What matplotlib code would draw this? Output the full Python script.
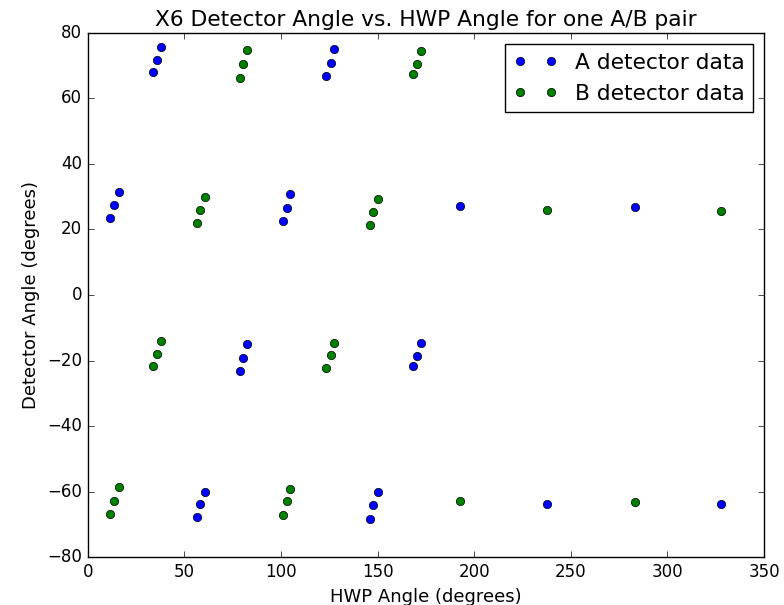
import matplotlib
matplotlib.use('Agg')
import matplotlib.pyplot as plt

plt.style.use('classic')

# HWP angle (degrees) for every measurement
hwp = [11.7, 13.6, 15.9, 34.0, 35.9, 37.9, 56.4, 58.2, 60.4,
       78.8, 80.5, 82.4, 101.0, 103.1, 104.9, 123.4, 125.7, 127.4,
       145.9, 147.7, 150.0, 168.5, 170.2, 172.4,
       192.6, 237.8, 283.0, 327.8]

# detector angles (degrees)
det_a = [23.5, 27.5, 31.5, 68.1, 71.6, 75.8, -67.9, -63.8, -60.0,
         -23.1, -19.1, -15.0, 22.5, 26.7, 30.8, 67.0, 70.9, 75.0,
         -68.3, -64.2, -60.3, -21.7, -18.6, -14.7,
         27.2, -63.8, 26.8, -63.8]
det_b = [-66.9, -62.9, -58.5, -21.7, -17.9, -14.0, 22.0, 25.8, 29.8,
         66.4, 70.4, 74.7, -67.3, -63.0, -59.2, -22.4, -18.3, -14.6,
         21.4, 25.4, 29.2, 67.5, 70.4, 74.4,
         -62.9, 25.8, -63.2, 25.5]

fig = plt.figure(figsize=(7.84, 6.05), dpi=100, facecolor='white')
ax = fig.add_axes([0.112, 0.0793, 0.8625, 0.8662])

ax.plot(hwp, det_a, 'bo', label='A detector data')
ax.plot(hwp, det_b, 'go', label='B detector data')

ax.set_xlim(0, 350)
ax.set_ylim(-80, 80)
ax.set_title('X6 Detector Angle vs. HWP Angle for one A/B pair', fontsize=15.7)
ax.set_xlabel('HWP Angle (degrees)', fontsize=13)
ax.set_ylabel('Detector Angle (degrees)', fontsize=13)
ax.legend(loc='upper right', fontsize=15.7)

fig.savefig('out.png', dpi=100, facecolor='white')
